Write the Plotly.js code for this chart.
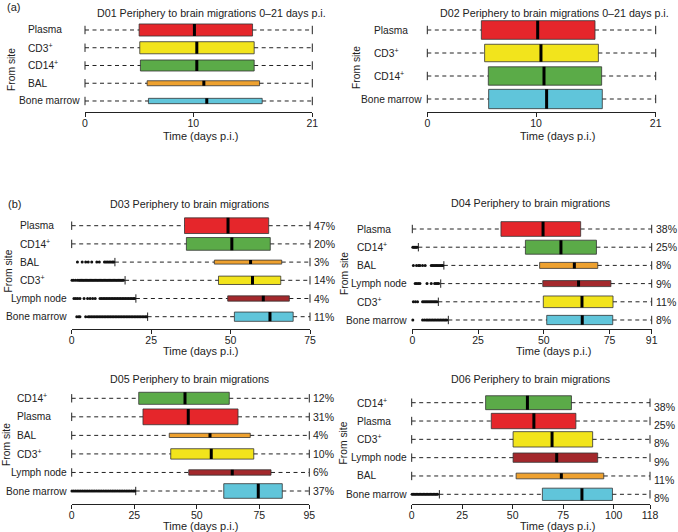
<!DOCTYPE html>
<html><head><meta charset="utf-8">
<script src="https://cdn.plot.ly/plotly-3.0.1.min.js"></script>
<style>html,body{margin:0;padding:0;background:#fff}#chart{width:678px;height:532px}</style>
</head><body><div id="chart"></div>
<script>
// ---------------- DATA ----------------
const d01Sites = ['Plasma','CD3<sup>+</sup>','CD14<sup>+</sup>','BAL','Bone marrow'];
const d01Q1  = [5.0, 5.06, 5.12, 5.74, 5.86];
const d01Med = [10.11, 10.33, 10.33, 10.98, 11.25];
const d01Q3  = [15.48, 15.63, 15.63, 16.13, 16.37];
const d01Lo  = [0, 0, 0, 0, 0];
const d01Hi  = [21, 21, 21, 21, 21];
const d01Out = [[], [], [], [], []];
const d01Ticks = [0, 10, 21];

const d02Sites = ['Plasma','CD3<sup>+</sup>','CD14<sup>+</sup>','Bone marrow'];
const d02Q1  = [4.97, 5.27, 5.61, 5.64];
const d02Med = [10.15, 10.45, 10.73, 10.97];
const d02Q3  = [15.42, 15.73, 16.03, 16.09];
const d02Lo  = [0, 0, 0, 0];
const d02Hi  = [21, 21, 21, 21];
const d02Out = [[], [], [], []];
const d02Ticks = [0, 10, 21];

const d03Sites = ['Plasma','CD14<sup>+</sup>','BAL','CD3<sup>+</sup>','Lymph node','Bone marrow'];
const d03Q1  = [35.5, 36.1, 44.9, 46.2, 49.1, 51.2];
const d03Med = [49.2, 50.4, 56.3, 56.9, 60.3, 62.4];
const d03Q3  = [62.0, 62.5, 66.1, 65.8, 68.5, 69.7];
const d03Lo  = [0, 0, 13.6, 16.8, 20.2, 23.9];
const d03Hi  = [75, 75, 75, 75, 75, 75];
const d03Pct = ['47%','20%','3%','14%','4%','11%'];
const d03Out = [
  [],
  [],
  [1.8, 3.3, 4.4, 5.2, 6.3, 7.9, 8.7, 10.3, 10.8, 11.3, 11.8, 12.3, 12.8, 13.2],
  [0.1, 0.6, 1.2, 1.8, 2.3, 2.7, 3.1, 3.5, 3.9, 4.3, 4.7, 5.1, 5.5, 5.9, 6.3, 6.7, 7.1, 7.5, 7.9, 8.3,
   8.7, 9.1, 9.5, 9.9, 10.3, 10.7, 11.1, 11.5, 11.9, 12.3, 12.7, 13.1, 13.5, 13.9, 14.3, 14.7, 15.1, 15.5, 15.9, 16.3],
  [0.7, 1.3, 1.9, 2.6, 3.9, 5.0, 5.8, 6.6, 7.4, 8.9, 9.4, 9.9, 10.4, 10.9, 11.4, 11.9, 12.4, 12.9, 13.4,
   13.9, 14.4, 14.9, 15.4, 15.9, 16.4, 16.9, 17.4, 17.9, 18.4, 18.9, 19.4, 19.8],
  [1.6, 2.2, 2.6, 4.4, 5.2, 5.7, 6.2, 6.7, 7.2, 7.7, 8.2, 8.7, 9.2, 9.7, 10.2, 10.7, 11.2, 11.7, 12.2, 12.7,
   13.2, 13.7, 14.2, 14.7, 15.2, 15.7, 16.2, 16.7, 17.2, 17.7, 18.2, 18.7, 19.2, 19.7, 20.2, 20.7, 21.2, 21.7, 22.2, 22.7, 23.2, 23.6]
];
const d03Ticks = [0, 25, 50, 75];

const d04Sites = ['Plasma','CD14<sup>+</sup>','BAL','Lymph node','CD3<sup>+</sup>','Bone marrow'];
const d04Q1  = [33.7, 43.0, 48.4, 49.6, 49.8, 51.1];
const d04Med = [49.7, 56.5, 61.6, 63.2, 64.5, 64.6];
const d04Q3  = [64.0, 70.0, 70.5, 75.5, 76.3, 76.2];
const d04Lo  = [0, 2.3, 12.0, 10.8, 9.9, 13.7];
const d04Hi  = [91, 91, 91, 91, 91, 91];
const d04Pct = ['38%','25%','8%','9%','11%','8%'];
const d04Out = [
  [],
  [0.2, 0.6, 1.0, 1.4, 1.8],
  [0.4, 1.6, 2.4, 2.9, 3.9, 4.9, 7.2, 7.7, 8.2, 8.7, 9.2, 9.7, 10.2, 10.7, 11.2, 11.6],
  [1.1, 1.7, 2.3, 2.9, 5.6, 7.2, 8.5, 9.0, 9.5, 10.0],
  [0.4, 1.2, 2.0, 3.9, 4.4, 4.9, 5.4, 5.9, 6.4, 6.9, 7.4, 7.9, 8.4, 8.9, 9.4],
  [0.2, 3.9, 4.6, 5.3, 5.9, 6.5, 7.1, 7.7, 8.3, 8.9, 9.5, 10.1, 10.7, 11.3, 11.9, 12.5, 13.1]
];
const d04Ticks = [0, 25, 50, 75, 91];

const d05Sites = ['CD14<sup>+</sup>','Plasma','BAL','CD3<sup>+</sup>','Lymph node','Bone marrow'];
const d05Q1  = [26.8, 28.5, 39.0, 39.6, 46.8, 60.8];
const d05Med = [45.3, 46.6, 55.3, 55.8, 64.2, 74.6];
const d05Q3  = [63.0, 66.5, 71.4, 72.8, 79.7, 84.2];
const d05Lo  = [0, 0, 0, 0, 0, 25.6];
const d05Hi  = [95, 95, 95, 95, 95, 95];
const d05Pct = ['12%','31%','4%','10%','6%','37%'];
const d05Out = [
  [], [], [], [], [],
  [0.1, 0.8, 1.5, 2.2, 2.9, 3.6, 4.3, 5.0, 5.7, 6.4, 7.1, 7.8, 8.5, 9.2, 9.9, 10.6, 11.3, 12.0, 12.7,
   13.4, 14.1, 14.8, 15.5, 16.2, 16.9, 17.6, 18.3, 19.0, 19.7, 20.4, 21.1, 21.8, 22.5, 23.2, 23.9, 24.6, 25.2]
];
const d05Ticks = [0, 25, 50, 75, 95];

const d06Sites = ['CD14<sup>+</sup>','Plasma','CD3<sup>+</sup>','Lymph node','BAL','Bone marrow'];
const d06Q1  = [36.6, 39.4, 50.2, 50.2, 51.7, 64.7];
const d06Med = [57.3, 60.5, 69.5, 71.8, 74.1, 84.3];
const d06Q3  = [79.1, 81.3, 89.6, 92.1, 95.1, 99.4];
const d06Lo  = [0, 0, 0, 0, 0, 13.7];
const d06Hi  = [118, 118, 118, 118, 118, 118];
const d06Pct = ['38%','25%','8%','9%','11%','8%'];
const d06Out = [
  [], [], [], [], [],
  [0.2, 0.9, 1.6, 2.3, 3.0, 3.7, 4.4, 5.1, 5.8, 6.5, 7.2, 7.9, 8.6, 9.3, 10.0, 10.7, 11.4, 12.1, 12.8]
];
const d06Ticks = [0, 25, 50, 75, 100, 118];

// ---------------- STYLE / LAYOUT ----------------
const W = 678, H = 532;
const FONT = 'Liberation Sans, Arial, Helvetica, sans-serif';
const TXT = '#222';
const siteColors = {
  'Plasma': '#e5262b',
  'CD3<sup>+</sup>': '#f2e41c',
  'CD14<sup>+</sup>': '#5bab48',
  'BAL': '#eea12f',
  'Bone marrow': '#60c5da',
  'Lymph node': '#a3282c'
};

const panels = [
  {title:'D01 Periphery to brain migrations 0\u201321 days p.i.', sites:d01Sites, q1:d01Q1, med:d01Med, q3:d01Q3, lo:d01Lo, hi:d01Hi, out:d01Out, pct:null, ticks:d01Ticks,
   g:{xL:85, xR:312.3, y0:30, s:17.75, yAxis:112, labelX:26, tx:211, ty:13, ytx:12, yty:70, xtx:200, xty:136, pctShift:0,
      thick:[0.68,0.68,0.62,0.28,0.3]}},
  {title:'D02 Periphery to brain migrations 0\u201321 days p.i.', sites:d02Sites, q1:d02Q1, med:d02Med, q3:d02Q3, lo:d02Lo, hi:d02Hi, out:d02Out, pct:null, ticks:d02Ticks,
   g:{xL:427.3, xR:655.7, y0:30, s:23, yAxis:112, labelX:371.7, tx:554, ty:13, ytx:356, yty:68, xtx:557, xty:136, pctShift:0,
      thick:[0.81,0.76,0.8,0.84]}},
  {title:'D03 Periphery to brain migrations', sites:d03Sites, q1:d03Q1, med:d03Med, q3:d03Q3, lo:d03Lo, hi:d03Hi, out:d03Out, pct:d03Pct, ticks:d03Ticks,
   g:{xL:71.7, xR:310, y0:225.7, s:18.2, yAxis:329.3, labelX:18, tx:189, ty:204, ytx:8, yty:271.5, xtx:200, xty:351, pctShift:0,
      thick:[0.86,0.70,0.22,0.46,0.29,0.51]}},
  {title:'D04 Periphery to brain migrations', sites:d04Sites, q1:d04Q1, med:d04Med, q3:d04Q3, lo:d04Lo, hi:d04Hi, out:d04Out, pct:d04Pct, ticks:d04Ticks,
   g:{xL:412.3, xR:651.7, y0:229, s:18.2, yAxis:329.3, labelX:355, tx:530, ty:203, ytx:344, yty:274, xtx:553, xty:351, pctShift:0,
      thick:[0.81,0.77,0.33,0.33,0.64,0.51]}},
  {title:'D05 Periphery to brain migrations', sites:d05Sites, q1:d05Q1, med:d05Med, q3:d05Q3, lo:d05Lo, hi:d05Hi, out:d05Out, pct:d05Pct, ticks:d05Ticks,
   g:{xL:71.7, xR:309.3, y0:398.3, s:18.54, yAxis:504.3, labelX:15, tx:189, ty:379, ytx:6, yty:445, xtx:200, xty:526, pctShift:0,
      thick:[0.65,0.85,0.23,0.56,0.29,0.79]}},
  {title:'D06 Periphery to brain migrations', sites:d06Sites, q1:d06Q1, med:d06Med, q3:d06Q3, lo:d06Lo, hi:d06Hi, out:d06Out, pct:d06Pct, ticks:d06Ticks,
   g:{xL:411.7, xR:650, y0:402.7, s:18.32, yAxis:504.3, labelX:355, tx:530, ty:379, ytx:343, yty:443.5, xtx:557, xty:526, pctShift:-4,
      thick:[0.76,0.84,0.84,0.51,0.31,0.67]}}
];

const px = v => v / W;
const py = v => 1 - v / H;
const plain = s => s.replace(/<[^>]+>/g, '');

const traces = [];
const layout = {
  width: W, height: H, margin: {l:0, r:0, t:0, b:0},
  paper_bgcolor: '#fff', plot_bgcolor: '#fff', showlegend: false,
  font: {family: FONT, size: 10.5, color: TXT},
  annotations: [
    {text:'(a)', xref:'paper', yref:'paper', x:px(5), y:py(7), xanchor:'left', yanchor:'middle', showarrow:false, font:{size:11}},
    {text:'(b)', xref:'paper', yref:'paper', x:px(6), y:py(204), xanchor:'left', yanchor:'middle', showarrow:false, font:{size:11}}
  ]
};

panels.forEach((p, k) => {
  const n = k + 1;
  const xa = 'x' + (n === 1 ? '' : n), ya = 'y' + (n === 1 ? '' : n);
  const g = p.g;
  const idx = p.sites.map((_, i) => i);
  const xmax = p.ticks[p.ticks.length - 1];

  // boxes
  traces.push({type:'bar', orientation:'h', xaxis:xa, yaxis:ya, y:idx, base:p.q1,
    x:p.q3.map((v, i) => v - p.q1[i]), width:g.thick,
    marker:{color:p.sites.map(s => siteColors[s]), line:{color:'#333', width:0.8}}, hoverinfo:'skip'});

  // whiskers
  const wx = [], wy = [];
  idx.forEach(i => { wx.push(p.lo[i], p.q1[i], null, p.q3[i], p.hi[i], null); wy.push(i, i, null, i, i, null); });
  traces.push({type:'scatter', mode:'lines', xaxis:xa, yaxis:ya, x:wx, y:wy, cliponaxis:false,
    line:{color:'#222', width:1, dash:'4px,3.5px'}, hoverinfo:'skip'});

  // caps
  const cx = [], cy = [];
  idx.forEach(i => { cx.push(p.lo[i], p.hi[i]); cy.push(i, i); });
  traces.push({type:'scatter', mode:'markers', xaxis:xa, yaxis:ya, x:cx, y:cy, cliponaxis:false,
    marker:{symbol:'line-ns', size:6, line:{color:'#222', width:1}}, hoverinfo:'skip'});

  // medians
  const mx = [], my = [];
  idx.forEach(i => { mx.push(p.med[i], p.med[i], null); my.push(i - g.thick[i] / 2, i + g.thick[i] / 2, null); });
  traces.push({type:'scatter', mode:'lines', xaxis:xa, yaxis:ya, x:mx, y:my,
    line:{color:'#000', width:3}, hoverinfo:'skip'});

  // outliers
  const ox = [], oy = [];
  idx.forEach(i => p.out[i].forEach(v => { ox.push(v); oy.push(i); }));
  if (ox.length) traces.push({type:'scatter', mode:'markers', xaxis:xa, yaxis:ya, x:ox, y:oy, cliponaxis:false,
    marker:{symbol:'circle', size:3, color:'#111'}, hoverinfo:'skip'});

  // axes
  const top = g.y0 - g.s / 2;
  layout['xaxis' + (n === 1 ? '' : n)] = {
    domain:[px(g.xL), px(g.xR)], range:[0, xmax], anchor:ya,
    tickvals:p.ticks, ticktext:p.ticks.map(String), ticks:'outside', ticklen:4, tickwidth:1, tickcolor:'#222',
    ticklabelstandoff:-3,
    showline:true, linecolor:'#222', linewidth:1, showgrid:false, zeroline:false, fixedrange:true,
    tickfont:{size:10.5, color:TXT}
  };
  layout['yaxis' + (n === 1 ? '' : n)] = {
    domain:[py(g.yAxis), py(top)], range:[(g.yAxis - g.y0) / g.s, -0.5], anchor:xa,
    showticklabels:false, ticks:'', showgrid:false, zeroline:false, showline:false, fixedrange:true
  };

  // titles
  layout.annotations.push({text:p.title, xref:'paper', yref:'paper', x:px(g.tx), y:py(g.ty),
    xanchor:'center', yanchor:'middle', showarrow:false, font:{size:10.7}});
  layout.annotations.push({text:'From site', xref:'paper', yref:'paper', x:px(g.ytx), y:py(g.yty),
    xanchor:'center', yanchor:'middle', textangle:-90, showarrow:false, font:{size:10.3}});
  layout.annotations.push({text:'Time (days p.i.)', xref:'paper', yref:'paper', x:px(g.xtx), y:py(g.xty),
    xanchor:'center', yanchor:'middle', showarrow:false, font:{size:11}});

  // category labels
  p.sites.forEach((s, i) => {
    const long = plain(s).length > 8;
    layout.annotations.push({text:s, xref:'paper', yref:ya, x:long ? px(g.xL - 3) : px(g.labelX), y:i,
      xanchor:long ? 'right' : 'left', yanchor:'middle', showarrow:false, font:{size:10.2}});
  });

  // percentages
  if (p.pct) p.pct.forEach((t, i) => {
    layout.annotations.push({text:t, xref:xa, yref:ya, x:p.hi[i], y:i, xanchor:'left', yanchor:'middle',
      xshift:2, yshift:g.pctShift, showarrow:false, font:{size:10.5}});
  });
});

Plotly.newPlot('chart', traces, layout, {displayModeBar:false, staticPlot:true});
</script>
</body></html>
